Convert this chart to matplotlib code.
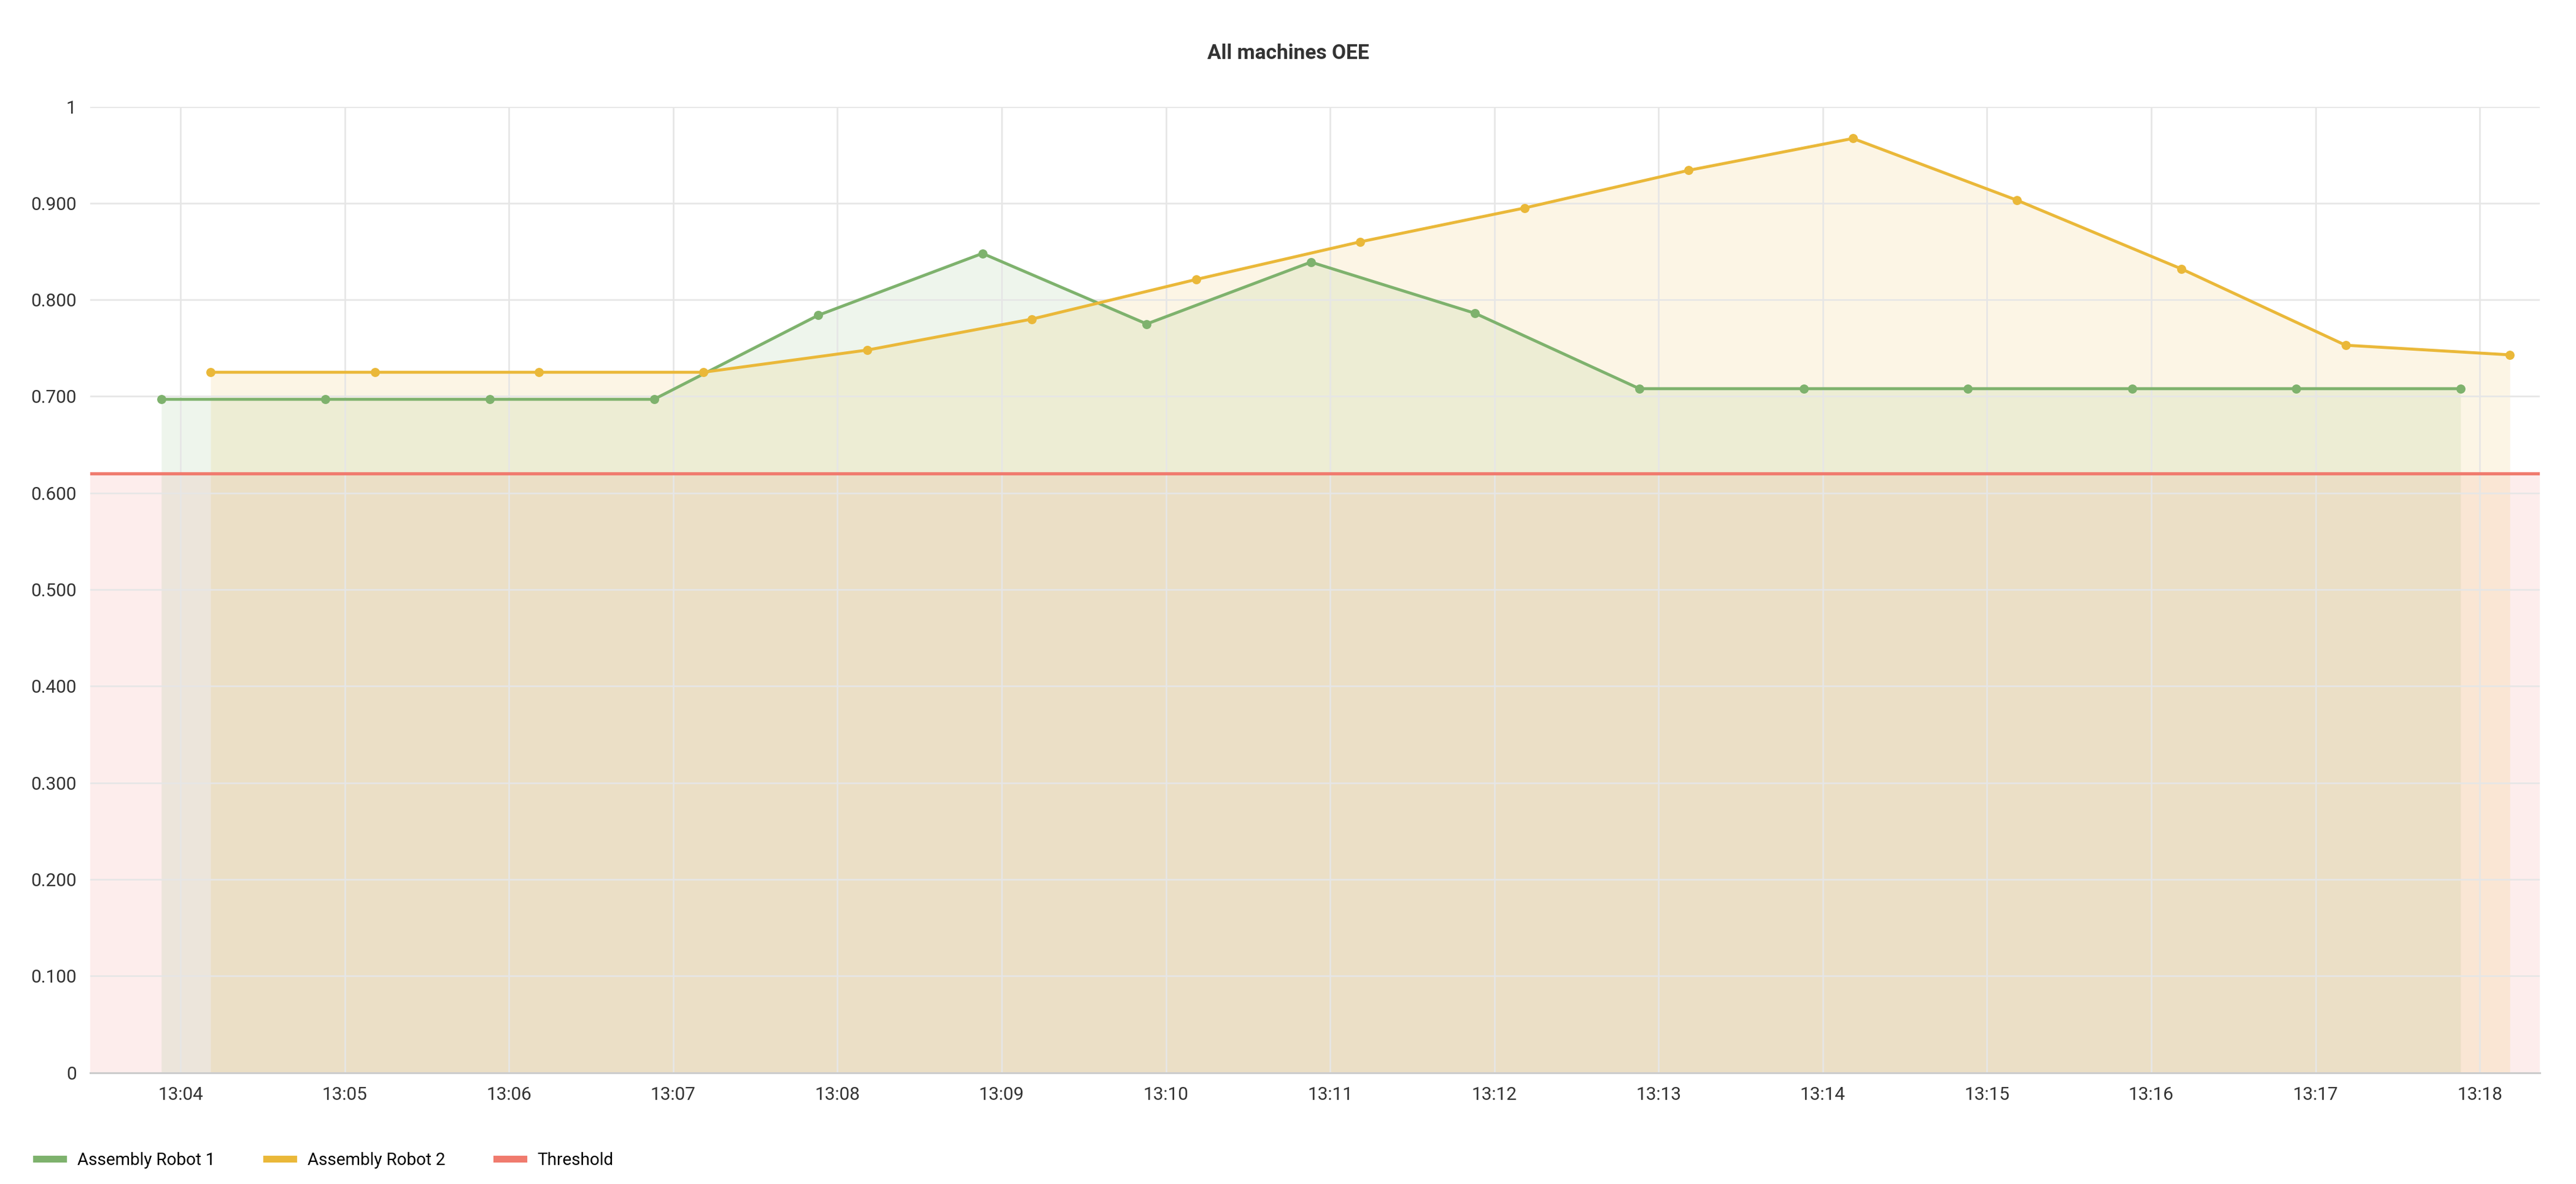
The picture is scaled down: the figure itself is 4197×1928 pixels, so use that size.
import matplotlib
matplotlib.use("Agg")
import matplotlib.pyplot as plt
import matplotlib.dates as mdates
import numpy as np
from datetime import datetime, timedelta

plt.rcParams['font.family'] = ['Roboto', 'DejaVu Sans']

title = "All machines OEE"
robot1_start = "2023-01-01 13:03:53"
robot2_start = "2023-01-01 13:04:11"
robot1_values = [0.697, 0.697, 0.697, 0.697, 0.784, 0.848, 0.775, 0.839, 0.786, 0.708, 0.708, 0.708, 0.708, 0.708, 0.708]
robot2_values = [0.725, 0.725, 0.725, 0.725, 0.748, 0.780, 0.821, 0.860, 0.895, 0.934, 0.967, 0.903, 0.832, 0.753, 0.743]
threshold = 0.62
series_names = ["Assembly Robot 1", "Assembly Robot 2", "Threshold"]
green, yellow, red = "#7eb26d", "#eab839", "#f07b6e"

def times(start, n):
    t0 = datetime.strptime(start, "%Y-%m-%d %H:%M:%S")
    return [t0 + timedelta(minutes=i) for i in range(n)]

t1 = times(robot1_start, len(robot1_values))
t2 = times(robot2_start, len(robot2_values))

dpi = 267.7
fig = plt.figure(figsize=(4197 / dpi, 1928 / dpi), dpi=dpi)
ax = fig.add_axes([0.035, 0.094, 0.951, 0.816])

xmin = datetime(2023, 1, 1, 13, 3, 27)
xmax = datetime(2023, 1, 1, 13, 18, 22)
ax.axhspan(0, threshold, color=red, alpha=0.13, lw=0)
ax.axhline(threshold, color=red, lw=1.4)
ax.fill_between(t1, robot1_values, color=green, alpha=0.13, lw=0)
ax.fill_between(t2, robot2_values, color=yellow, alpha=0.13, lw=0)
ax.plot(t1, robot1_values, color=green, lw=1.3, marker="o", ms=3)
ax.plot(t2, robot2_values, color=yellow, lw=1.3, marker="o", ms=3)

ax.set_xlim(xmin, xmax)
ax.set_ylim(0, 1)
ax.set_yticks(np.arange(0, 1.01, 0.1))
ax.set_yticklabels(["0"] + [f"{v:.3f}" for v in np.arange(0.1, 0.95, 0.1)] + ["1"])
ax.xaxis.set_major_locator(mdates.MinuteLocator())
ax.xaxis.set_major_formatter(mdates.DateFormatter("%H:%M"))
ax.grid(True, color="#e6e6e6", lw=0.7)
for s in ["top", "right", "left"]:
    ax.spines[s].set_visible(False)
ax.spines["bottom"].set_color("#cccccc")
ax.tick_params(length=0, labelsize=8, colors="#333333", pad=6)

fig.text(0.5, 0.955, title, ha="center", va="center", fontsize=9, fontweight="bold", color="#333333")

from matplotlib.lines import Line2D
handles = [Line2D([], [], color=c, lw=3) for c in (green, yellow, red)]
fig.legend(handles, series_names, loc="lower left", bbox_to_anchor=(0.008, 0.0), ncol=3,
           frameon=False, fontsize=7.5, handlelength=1.6, columnspacing=3.0)

fig.savefig("out.png", dpi=dpi)
